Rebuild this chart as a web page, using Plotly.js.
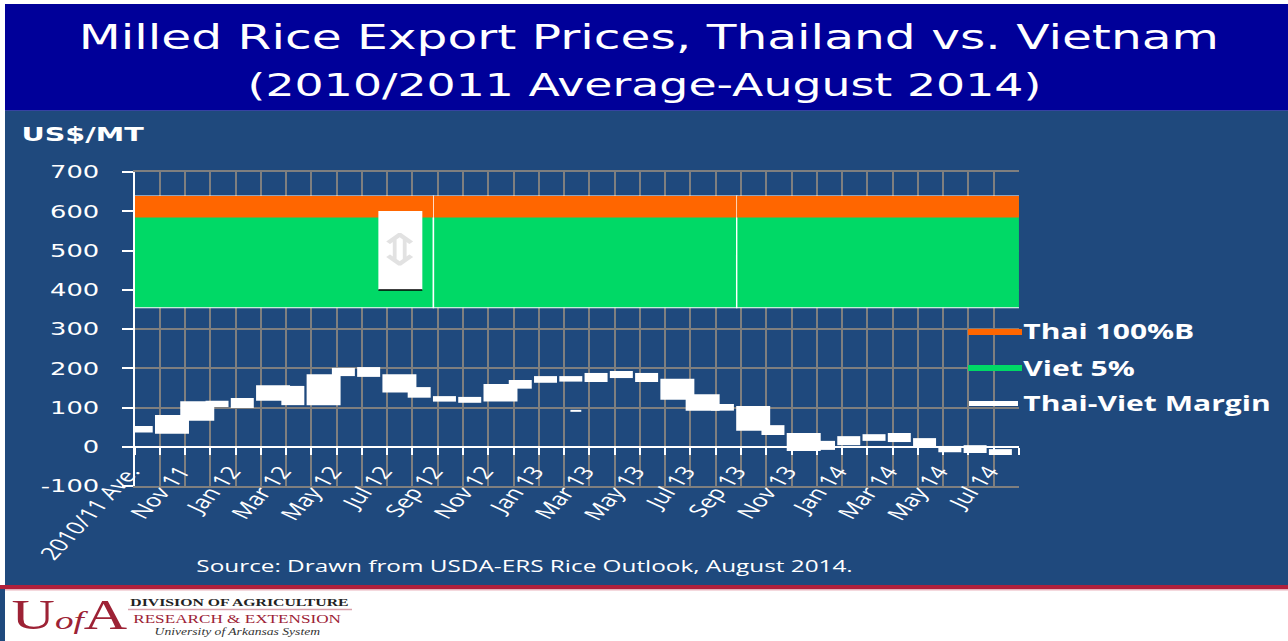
<!DOCTYPE html>
<html><head><meta charset="utf-8">
<script src="https://cdn.plot.ly/plotly-3.0.1.min.js"></script>
<style>
html,body{margin:0;padding:0;width:1288px;height:641px;overflow:hidden;background:#fff}
#chart{width:900px;height:641px;transform:scaleX(1.431111);transform-origin:0 0}
</style></head><body><div id="chart"></div>
<script>
// ---- data ----
const categories = ["2010/11 Ave.","Oct 11","Nov 11","Dec 11","Jan 12","Feb 12","Mar 12","Apr 12","May 12","Jun 12","Jul 12","Aug 12","Sep 12","Oct 12","Nov 12","Dec 12","Jan 13","Feb 13","Mar 13","Apr 13","May 13","Jun 13","Jul 13","Aug 13","Sep 13","Oct 13","Nov 13","Dec 13","Jan 14","Feb 14","Mar 14","Apr 14","May 14","Jun 14","Jul 14"];
const tickLabels = categories.map((c,i)=> i%2===0 ? c : "");
const yTickVals = [-100,0,100,200,300,400,500,600,700];
const yTickText = ["-100","0","100","200","300","400","500","600","700"];
// Thai-Viet margin floating boxes (US$/MT)
const marginLow  = [36,33,66,101,99,117,106,106,180,178,138,125,115,112,115,148,163,166,165,175,165,120,92,92,41,30,-11,-8,4,15,12,-1,-14,-16,-21];
const marginHigh = [53,81,116,117,124,157,155,185,201,203,185,152,129,127,160,170,180,180,188,193,188,173,134,109,104,55,35,15,27,32,35,22,2,4,-6];
const wideBars = [1,2,5,7,10,14,21,22,24,26];
const strayCat = [categories[17]], strayLow = [89], strayHigh = [94];
// Thai 100%B and Viet 5% bands
const bandCats = [categories[0], categories[12], categories[24]];
const thaiTop = [639,639,639];
const vietTop = [584,584,584];
const bandFloor = [354,354,354];
const seriesNames = ["Thai 100%B","Viet 5%","Thai-Viet Margin"];

// ---- geometry helpers (figure is drawn 900 wide and stretched to 1288) ----
const S = 1288/900, W = 900, H = 641, L = 94, R = 188, T = 172, B = 155;
const PW = W-L-R, PH = H-T-B;
const px = X => (X/S - L)/PW;
const py = Y => (H - B - Y)/PH;

const WHITE = '#ffffff', GRID = '#7f7f7f';
const bounds = categories.map((_,i)=>i-0.5).concat([categories.length-0.5]);

const traces = [
  {type:'bar', name:seriesNames[1], x:bandCats, base:bandFloor, y:thaiTop.map((t,i)=>t-bandFloor[i]),
   width:12, offset:-0.67, marker:{color:'#00d966', line:{color:WHITE, width:1}}, hoverinfo:'skip'},
  {type:'bar', name:seriesNames[0], x:bandCats, base:vietTop, y:thaiTop.map((t,i)=>t-vietTop[i]),
   width:11.97, offset:-0.655, marker:{color:'#ff6600', line:{width:0}}, hoverinfo:'skip'},
  {type:'bar', name:seriesNames[2], x:categories, base:marginLow, y:marginHigh.map((h,i)=>h-marginLow[i]),
   width:categories.map((_,i)=> wideBars.includes(i) ? 1.345 : 0.91), offset:-0.69,
   marker:{color:WHITE, line:{width:0}}, hoverinfo:'skip'},
  {type:'bar', x:strayCat, base:strayLow, y:strayHigh.map((h,i)=>h-strayLow[i]), width:0.43, offset:-0.25,
   marker:{color:WHITE, line:{width:0}}, hoverinfo:'skip'},
  {type:'scatter', x:[0], y:[null], xaxis:'x2', yaxis:'y', hoverinfo:'skip', mode:'markers'}
];

const rect = (x0,y0,x1,y1,color)=>({type:'rect', xref:'paper', yref:'paper', x0:px(x0), x1:px(x1), y0:py(y0), y1:py(y1), fillcolor:color, line:{width:0}, layer:'below'});
const shapes = [
  rect(5,4,1288,110.7,'#000099'),
  rect(5,110.7,1288,585,'#1f497d'),
  rect(0,585,5,641,'#1f497d'),
  rect(0,585,1288,589,'#b0203c'),
  rect(5,589,1288,590.5,'#eab2bb'),
  // picture box inside the chart
  {type:'rect', xref:'x', yref:'y', x0:9.15, x1:10.89, y0:399.4, y1:600.8, fillcolor:WHITE, line:{width:0}, layer:'above'},
  {type:'line', xref:'x', yref:'y', x0:9.15, x1:10.89, y0:399.4, y1:399.4, line:{color:'#000', width:1.5}, layer:'above'},
  // legend swatches
  {type:'line', xref:'paper', yref:'paper', x0:px(968), x1:px(1022), y0:py(332), y1:py(332), line:{color:'#ff6600', width:6}},
  {type:'line', xref:'paper', yref:'paper', x0:px(968), x1:px(1022), y0:py(368), y1:py(368), line:{color:'#00d966', width:6}},
  {type:'line', xref:'paper', yref:'paper', x0:px(969), x1:px(1018), y0:py(403.5), y1:py(403.5), line:{color:WHITE, width:5}},
  // logo rule
  {type:'line', xref:'paper', yref:'paper', x0:px(128), x1:px(352), y0:py(609.5), y1:py(609.5), line:{color:'#d9a0aa', width:1.5}}
];

const ann = (text, X, Y, font, xanchor) => ({text, xref:'paper', yref:'paper', x:px(X), y:py(Y), xanchor:xanchor||'center', yanchor:'middle', showarrow:false, font});
const annotations = [
  ann('Milled Rice Export Prices, Thailand vs. Vietnam', 649, 37, {family:'DejaVu Sans', size:34, color:WHITE}),
  ann('(2010/2011 Average-August 2014)', 645, 85, {family:'DejaVu Sans', size:32, color:WHITE}),
  ann('US$/MT', 19, 133.5, {family:'DejaVu Sans', size:20, color:WHITE, weight:700}, 'left'),
  ann(seriesNames[0], 1021, 331, {family:'Open Sans', size:21, color:WHITE, weight:700}, 'left'),
  ann(seriesNames[1], 1021, 368, {family:'Open Sans', size:21, color:WHITE, weight:700}, 'left'),
  ann(seriesNames[2], 1021, 403, {family:'Open Sans', size:21, color:WHITE, weight:700}, 'left'),
  ann('Source: Drawn from USDA-ERS Rice Outlook, August 2014.', 525, 565, {family:'Open Sans', size:17, color:WHITE}),
  ann("U<span style='font-size:26px'><i>of</i></span>A", 70, 615, {family:'Liberation Serif', size:42, color:'#9d2235'}),
  ann('<b>DIVISION OF AGRICULTURE</b>', 240, 602, {family:'Liberation Serif', size:11, color:'#222'}),
  ann('RESEARCH &amp; EXTENSION', 238, 619, {family:'Liberation Serif', size:12, color:'#9d2235'}),
  ann('<i>University of Arkansas System</i>', 238, 632, {family:'Liberation Serif', size:9.5, color:'#333'}),
  {text:'⇕', xref:'x', yref:'y', x:10.02, y:502, showarrow:false, font:{family:'DejaVu Sans', size:44, color:'#e2e2e2'}}
];

const layout = {
  width:W, height:H, margin:{l:L, r:R, t:T, b:B, pad:0},
  paper_bgcolor:'#ffffff', plot_bgcolor:'rgba(0,0,0,0)',
  barmode:'overlay', showlegend:false, hovermode:false,
  font:{family:'DejaVu Sans', color:WHITE},
  xaxis:{type:'category', categoryorder:'array', categoryarray:categories, range:[-0.5,34.5],
    tickmode:'array', tickvals:categories, ticktext:tickLabels, tickson:'boundaries',
    showgrid:true, gridcolor:GRID, gridwidth:1.4, ticks:'', tickangle:-56,
    tickfont:{family:'Open Sans', size:18, color:WHITE}, ticklabelstandoff:-34, ticklabelshift:-12,
    showline:true, linecolor:GRID, linewidth:2, mirror:true, zeroline:false, fixedrange:true},
  xaxis2:{overlaying:'x', anchor:'free', position:0.125, range:[-0.5,34.5], tickmode:'array', tickvals:bounds,
    ticks:'outside', ticklen:7, tickwidth:1.4, tickcolor:WHITE, showticklabels:false, showgrid:false,
    showline:false, zeroline:false, fixedrange:true},
  yaxis:{range:[-100,700], tickmode:'array', tickvals:yTickVals, ticktext:yTickText, ticks:'outside', ticklen:7.7, tickwidth:2, tickcolor:WHITE,
    tickfont:{family:'DejaVu Sans', size:18, color:WHITE}, showline:true, linecolor:WHITE, linewidth:1.4,
    showgrid:true, gridcolor:GRID, gridwidth:2, zeroline:true, zerolinecolor:WHITE, zerolinewidth:2,
    ticklabelstandoff:12, fixedrange:true},
  shapes, annotations
};
Plotly.newPlot('chart', traces, layout, {displayModeBar:false, staticPlot:true});
</script></body></html>
